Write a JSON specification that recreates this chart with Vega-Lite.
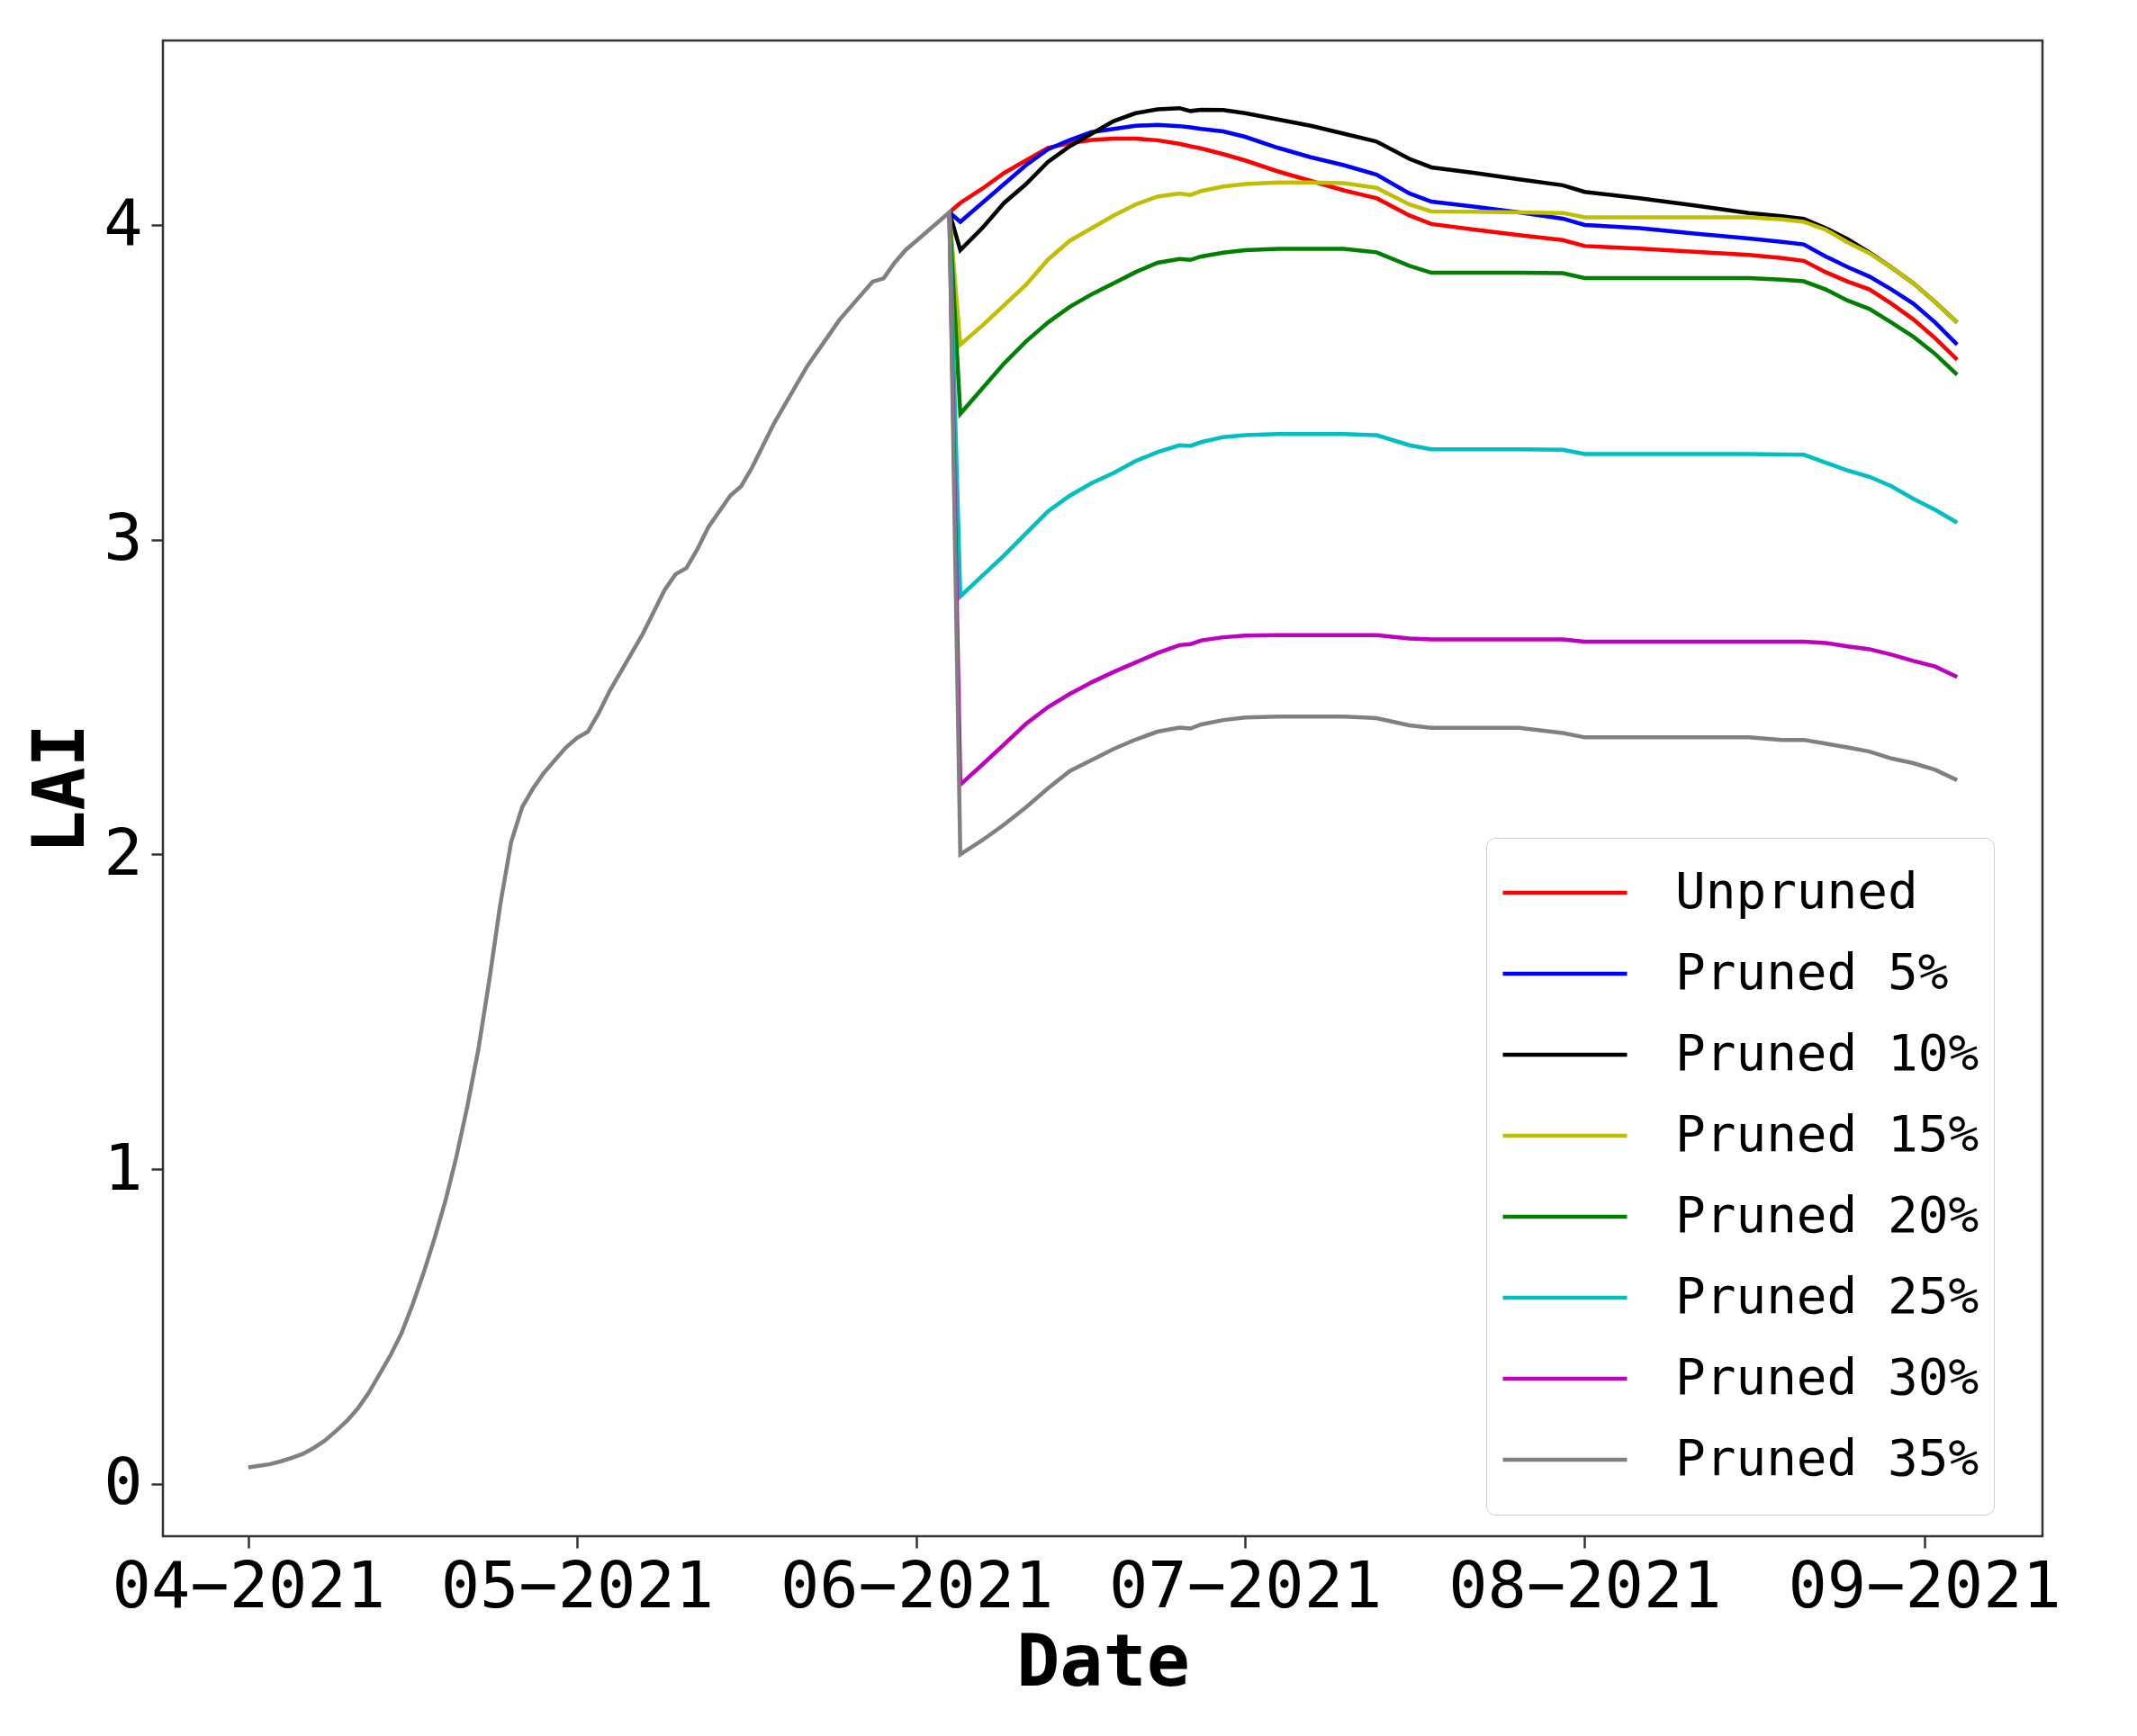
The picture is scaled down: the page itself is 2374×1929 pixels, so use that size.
{
"$schema": "https://vega.github.io/schema/vega-lite/v6.json",
"width": 2088, "height": 1662,
"autosize": {"type": "none"},
"padding": {"left": 181, "top": 45, "right": 105, "bottom": 222},
"background": "white",
"config": {"view": {"stroke": "#333333", "strokeWidth": 2.5}, "font": "DejaVu Sans Mono"},
"data": {"values": [
{"d":"2021/06/04","s":"Unpruned","v":4.04},{"d":"2021/06/05","s":"Unpruned","v":4.07},{"d":"2021/06/07","s":"Unpruned","v":4.115},{"d":"2021/06/09","s":"Unpruned","v":4.165},{"d":"2021/06/11","s":"Unpruned","v":4.205},{"d":"2021/06/13","s":"Unpruned","v":4.245},{"d":"2021/06/15","s":"Unpruned","v":4.26},{"d":"2021/06/17","s":"Unpruned","v":4.27},{"d":"2021/06/19","s":"Unpruned","v":4.274},{"d":"2021/06/21","s":"Unpruned","v":4.274},{"d":"2021/06/23","s":"Unpruned","v":4.269},{"d":"2021/06/25","s":"Unpruned","v":4.258},{"d":"2021/06/26","s":"Unpruned","v":4.25},{"d":"2021/06/27","s":"Unpruned","v":4.243},{"d":"2021/06/29","s":"Unpruned","v":4.225},{"d":"2021/07/01","s":"Unpruned","v":4.205},{"d":"2021/07/04","s":"Unpruned","v":4.17},{"d":"2021/07/07","s":"Unpruned","v":4.14},{"d":"2021/07/10","s":"Unpruned","v":4.11},{"d":"2021/07/13","s":"Unpruned","v":4.085},{"d":"2021/07/16","s":"Unpruned","v":4.03},{"d":"2021/07/18","s":"Unpruned","v":4.003},{"d":"2021/07/22","s":"Unpruned","v":3.985},{"d":"2021/07/26","s":"Unpruned","v":3.968},{"d":"2021/07/30","s":"Unpruned","v":3.952},{"d":"2021/08/01","s":"Unpruned","v":3.933},{"d":"2021/08/06","s":"Unpruned","v":3.925},{"d":"2021/08/11","s":"Unpruned","v":3.915},{"d":"2021/08/16","s":"Unpruned","v":3.905},{"d":"2021/08/19","s":"Unpruned","v":3.895},{"d":"2021/08/21","s":"Unpruned","v":3.886},{"d":"2021/08/23","s":"Unpruned","v":3.85},{"d":"2021/08/25","s":"Unpruned","v":3.82},{"d":"2021/08/27","s":"Unpruned","v":3.795},{"d":"2021/08/29","s":"Unpruned","v":3.75},{"d":"2021/08/31","s":"Unpruned","v":3.7},{"d":"2021/09/02","s":"Unpruned","v":3.64},{"d":"2021/09/04","s":"Unpruned","v":3.572},
{"d":"2021/06/04","s":"Pruned 5%","v":4.04},{"d":"2021/06/05","s":"Pruned 5%","v":4.01},{"d":"2021/06/07","s":"Pruned 5%","v":4.07},{"d":"2021/06/09","s":"Pruned 5%","v":4.13},{"d":"2021/06/11","s":"Pruned 5%","v":4.19},{"d":"2021/06/13","s":"Pruned 5%","v":4.24},{"d":"2021/06/15","s":"Pruned 5%","v":4.27},{"d":"2021/06/17","s":"Pruned 5%","v":4.295},{"d":"2021/06/19","s":"Pruned 5%","v":4.305},{"d":"2021/06/21","s":"Pruned 5%","v":4.315},{"d":"2021/06/23","s":"Pruned 5%","v":4.318},{"d":"2021/06/25","s":"Pruned 5%","v":4.314},{"d":"2021/06/26","s":"Pruned 5%","v":4.31},{"d":"2021/06/27","s":"Pruned 5%","v":4.305},{"d":"2021/06/29","s":"Pruned 5%","v":4.297},{"d":"2021/07/01","s":"Pruned 5%","v":4.28},{"d":"2021/07/04","s":"Pruned 5%","v":4.245},{"d":"2021/07/07","s":"Pruned 5%","v":4.215},{"d":"2021/07/10","s":"Pruned 5%","v":4.19},{"d":"2021/07/13","s":"Pruned 5%","v":4.16},{"d":"2021/07/16","s":"Pruned 5%","v":4.1},{"d":"2021/07/18","s":"Pruned 5%","v":4.074},{"d":"2021/07/22","s":"Pruned 5%","v":4.058},{"d":"2021/07/26","s":"Pruned 5%","v":4.04},{"d":"2021/07/30","s":"Pruned 5%","v":4.02},{"d":"2021/08/01","s":"Pruned 5%","v":4.0},{"d":"2021/08/06","s":"Pruned 5%","v":3.99},{"d":"2021/08/11","s":"Pruned 5%","v":3.973},{"d":"2021/08/16","s":"Pruned 5%","v":3.957},{"d":"2021/08/19","s":"Pruned 5%","v":3.946},{"d":"2021/08/21","s":"Pruned 5%","v":3.938},{"d":"2021/08/23","s":"Pruned 5%","v":3.9},{"d":"2021/08/25","s":"Pruned 5%","v":3.866},{"d":"2021/08/27","s":"Pruned 5%","v":3.836},{"d":"2021/08/29","s":"Pruned 5%","v":3.795},{"d":"2021/08/31","s":"Pruned 5%","v":3.75},{"d":"2021/09/02","s":"Pruned 5%","v":3.69},{"d":"2021/09/04","s":"Pruned 5%","v":3.62},
{"d":"2021/06/04","s":"Pruned 10%","v":4.04},{"d":"2021/06/05","s":"Pruned 10%","v":3.92},{"d":"2021/06/07","s":"Pruned 10%","v":3.99},{"d":"2021/06/09","s":"Pruned 10%","v":4.07},{"d":"2021/06/11","s":"Pruned 10%","v":4.13},{"d":"2021/06/13","s":"Pruned 10%","v":4.2},{"d":"2021/06/15","s":"Pruned 10%","v":4.25},{"d":"2021/06/17","s":"Pruned 10%","v":4.29},{"d":"2021/06/19","s":"Pruned 10%","v":4.33},{"d":"2021/06/21","s":"Pruned 10%","v":4.355},{"d":"2021/06/23","s":"Pruned 10%","v":4.367},{"d":"2021/06/25","s":"Pruned 10%","v":4.371},{"d":"2021/06/26","s":"Pruned 10%","v":4.362},{"d":"2021/06/27","s":"Pruned 10%","v":4.366},{"d":"2021/06/29","s":"Pruned 10%","v":4.365},{"d":"2021/07/01","s":"Pruned 10%","v":4.355},{"d":"2021/07/04","s":"Pruned 10%","v":4.335},{"d":"2021/07/07","s":"Pruned 10%","v":4.315},{"d":"2021/07/10","s":"Pruned 10%","v":4.29},{"d":"2021/07/13","s":"Pruned 10%","v":4.265},{"d":"2021/07/16","s":"Pruned 10%","v":4.21},{"d":"2021/07/18","s":"Pruned 10%","v":4.183},{"d":"2021/07/22","s":"Pruned 10%","v":4.165},{"d":"2021/07/26","s":"Pruned 10%","v":4.145},{"d":"2021/07/30","s":"Pruned 10%","v":4.126},{"d":"2021/08/01","s":"Pruned 10%","v":4.105},{"d":"2021/08/06","s":"Pruned 10%","v":4.085},{"d":"2021/08/11","s":"Pruned 10%","v":4.062},{"d":"2021/08/16","s":"Pruned 10%","v":4.038},{"d":"2021/08/19","s":"Pruned 10%","v":4.028},{"d":"2021/08/21","s":"Pruned 10%","v":4.019},{"d":"2021/08/23","s":"Pruned 10%","v":3.99},{"d":"2021/08/25","s":"Pruned 10%","v":3.955},{"d":"2021/08/27","s":"Pruned 10%","v":3.912},{"d":"2021/08/29","s":"Pruned 10%","v":3.865},{"d":"2021/08/31","s":"Pruned 10%","v":3.815},{"d":"2021/09/02","s":"Pruned 10%","v":3.755},{"d":"2021/09/04","s":"Pruned 10%","v":3.69},
{"d":"2021/06/04","s":"Pruned 15%","v":4.04},{"d":"2021/06/05","s":"Pruned 15%","v":3.62},{"d":"2021/06/07","s":"Pruned 15%","v":3.68},{"d":"2021/06/09","s":"Pruned 15%","v":3.745},{"d":"2021/06/11","s":"Pruned 15%","v":3.81},{"d":"2021/06/13","s":"Pruned 15%","v":3.89},{"d":"2021/06/15","s":"Pruned 15%","v":3.95},{"d":"2021/06/17","s":"Pruned 15%","v":3.99},{"d":"2021/06/19","s":"Pruned 15%","v":4.03},{"d":"2021/06/21","s":"Pruned 15%","v":4.065},{"d":"2021/06/23","s":"Pruned 15%","v":4.09},{"d":"2021/06/25","s":"Pruned 15%","v":4.1},{"d":"2021/06/26","s":"Pruned 15%","v":4.095},{"d":"2021/06/27","s":"Pruned 15%","v":4.108},{"d":"2021/06/29","s":"Pruned 15%","v":4.122},{"d":"2021/07/01","s":"Pruned 15%","v":4.13},{"d":"2021/07/04","s":"Pruned 15%","v":4.135},{"d":"2021/07/07","s":"Pruned 15%","v":4.135},{"d":"2021/07/10","s":"Pruned 15%","v":4.133},{"d":"2021/07/13","s":"Pruned 15%","v":4.118},{"d":"2021/07/16","s":"Pruned 15%","v":4.065},{"d":"2021/07/18","s":"Pruned 15%","v":4.043},{"d":"2021/07/22","s":"Pruned 15%","v":4.042},{"d":"2021/07/26","s":"Pruned 15%","v":4.04},{"d":"2021/07/30","s":"Pruned 15%","v":4.038},{"d":"2021/08/01","s":"Pruned 15%","v":4.024},{"d":"2021/08/06","s":"Pruned 15%","v":4.024},{"d":"2021/08/11","s":"Pruned 15%","v":4.024},{"d":"2021/08/16","s":"Pruned 15%","v":4.024},{"d":"2021/08/19","s":"Pruned 15%","v":4.018},{"d":"2021/08/21","s":"Pruned 15%","v":4.01},{"d":"2021/08/23","s":"Pruned 15%","v":3.985},{"d":"2021/08/25","s":"Pruned 15%","v":3.945},{"d":"2021/08/27","s":"Pruned 15%","v":3.91},{"d":"2021/08/29","s":"Pruned 15%","v":3.865},{"d":"2021/08/31","s":"Pruned 15%","v":3.815},{"d":"2021/09/02","s":"Pruned 15%","v":3.755},{"d":"2021/09/04","s":"Pruned 15%","v":3.69},
{"d":"2021/06/04","s":"Pruned 20%","v":4.04},{"d":"2021/06/05","s":"Pruned 20%","v":3.4},{"d":"2021/06/07","s":"Pruned 20%","v":3.48},{"d":"2021/06/09","s":"Pruned 20%","v":3.56},{"d":"2021/06/11","s":"Pruned 20%","v":3.63},{"d":"2021/06/13","s":"Pruned 20%","v":3.69},{"d":"2021/06/15","s":"Pruned 20%","v":3.74},{"d":"2021/06/17","s":"Pruned 20%","v":3.78},{"d":"2021/06/19","s":"Pruned 20%","v":3.815},{"d":"2021/06/21","s":"Pruned 20%","v":3.85},{"d":"2021/06/23","s":"Pruned 20%","v":3.88},{"d":"2021/06/25","s":"Pruned 20%","v":3.892},{"d":"2021/06/26","s":"Pruned 20%","v":3.889},{"d":"2021/06/27","s":"Pruned 20%","v":3.9},{"d":"2021/06/29","s":"Pruned 20%","v":3.912},{"d":"2021/07/01","s":"Pruned 20%","v":3.92},{"d":"2021/07/04","s":"Pruned 20%","v":3.924},{"d":"2021/07/07","s":"Pruned 20%","v":3.924},{"d":"2021/07/10","s":"Pruned 20%","v":3.924},{"d":"2021/07/13","s":"Pruned 20%","v":3.913},{"d":"2021/07/16","s":"Pruned 20%","v":3.87},{"d":"2021/07/18","s":"Pruned 20%","v":3.848},{"d":"2021/07/22","s":"Pruned 20%","v":3.848},{"d":"2021/07/26","s":"Pruned 20%","v":3.848},{"d":"2021/07/30","s":"Pruned 20%","v":3.847},{"d":"2021/08/01","s":"Pruned 20%","v":3.831},{"d":"2021/08/06","s":"Pruned 20%","v":3.831},{"d":"2021/08/11","s":"Pruned 20%","v":3.831},{"d":"2021/08/16","s":"Pruned 20%","v":3.831},{"d":"2021/08/19","s":"Pruned 20%","v":3.826},{"d":"2021/08/21","s":"Pruned 20%","v":3.821},{"d":"2021/08/23","s":"Pruned 20%","v":3.795},{"d":"2021/08/25","s":"Pruned 20%","v":3.76},{"d":"2021/08/27","s":"Pruned 20%","v":3.733},{"d":"2021/08/29","s":"Pruned 20%","v":3.69},{"d":"2021/08/31","s":"Pruned 20%","v":3.645},{"d":"2021/09/02","s":"Pruned 20%","v":3.59},{"d":"2021/09/04","s":"Pruned 20%","v":3.524},
{"d":"2021/06/04","s":"Pruned 25%","v":4.04},{"d":"2021/06/05","s":"Pruned 25%","v":2.82},{"d":"2021/06/07","s":"Pruned 25%","v":2.885},{"d":"2021/06/09","s":"Pruned 25%","v":2.95},{"d":"2021/06/11","s":"Pruned 25%","v":3.02},{"d":"2021/06/13","s":"Pruned 25%","v":3.09},{"d":"2021/06/15","s":"Pruned 25%","v":3.14},{"d":"2021/06/17","s":"Pruned 25%","v":3.18},{"d":"2021/06/19","s":"Pruned 25%","v":3.212},{"d":"2021/06/21","s":"Pruned 25%","v":3.25},{"d":"2021/06/23","s":"Pruned 25%","v":3.278},{"d":"2021/06/25","s":"Pruned 25%","v":3.3},{"d":"2021/06/26","s":"Pruned 25%","v":3.298},{"d":"2021/06/27","s":"Pruned 25%","v":3.31},{"d":"2021/06/29","s":"Pruned 25%","v":3.326},{"d":"2021/07/01","s":"Pruned 25%","v":3.332},{"d":"2021/07/04","s":"Pruned 25%","v":3.336},{"d":"2021/07/07","s":"Pruned 25%","v":3.336},{"d":"2021/07/10","s":"Pruned 25%","v":3.336},{"d":"2021/07/13","s":"Pruned 25%","v":3.332},{"d":"2021/07/16","s":"Pruned 25%","v":3.3},{"d":"2021/07/18","s":"Pruned 25%","v":3.287},{"d":"2021/07/22","s":"Pruned 25%","v":3.287},{"d":"2021/07/26","s":"Pruned 25%","v":3.287},{"d":"2021/07/30","s":"Pruned 25%","v":3.286},{"d":"2021/08/01","s":"Pruned 25%","v":3.272},{"d":"2021/08/06","s":"Pruned 25%","v":3.272},{"d":"2021/08/11","s":"Pruned 25%","v":3.272},{"d":"2021/08/16","s":"Pruned 25%","v":3.272},{"d":"2021/08/19","s":"Pruned 25%","v":3.271},{"d":"2021/08/21","s":"Pruned 25%","v":3.27},{"d":"2021/08/23","s":"Pruned 25%","v":3.245},{"d":"2021/08/25","s":"Pruned 25%","v":3.22},{"d":"2021/08/27","s":"Pruned 25%","v":3.2},{"d":"2021/08/29","s":"Pruned 25%","v":3.17},{"d":"2021/08/31","s":"Pruned 25%","v":3.13},{"d":"2021/09/02","s":"Pruned 25%","v":3.095},{"d":"2021/09/04","s":"Pruned 25%","v":3.054},
{"d":"2021/06/04","s":"Pruned 30%","v":4.04},{"d":"2021/06/05","s":"Pruned 30%","v":2.222},{"d":"2021/06/07","s":"Pruned 30%","v":2.285},{"d":"2021/06/09","s":"Pruned 30%","v":2.35},{"d":"2021/06/11","s":"Pruned 30%","v":2.415},{"d":"2021/06/13","s":"Pruned 30%","v":2.468},{"d":"2021/06/15","s":"Pruned 30%","v":2.51},{"d":"2021/06/17","s":"Pruned 30%","v":2.547},{"d":"2021/06/19","s":"Pruned 30%","v":2.58},{"d":"2021/06/21","s":"Pruned 30%","v":2.61},{"d":"2021/06/23","s":"Pruned 30%","v":2.64},{"d":"2021/06/25","s":"Pruned 30%","v":2.665},{"d":"2021/06/26","s":"Pruned 30%","v":2.668},{"d":"2021/06/27","s":"Pruned 30%","v":2.68},{"d":"2021/06/29","s":"Pruned 30%","v":2.69},{"d":"2021/07/01","s":"Pruned 30%","v":2.695},{"d":"2021/07/04","s":"Pruned 30%","v":2.697},{"d":"2021/07/07","s":"Pruned 30%","v":2.697},{"d":"2021/07/10","s":"Pruned 30%","v":2.697},{"d":"2021/07/13","s":"Pruned 30%","v":2.697},{"d":"2021/07/16","s":"Pruned 30%","v":2.686},{"d":"2021/07/18","s":"Pruned 30%","v":2.683},{"d":"2021/07/22","s":"Pruned 30%","v":2.683},{"d":"2021/07/26","s":"Pruned 30%","v":2.683},{"d":"2021/07/30","s":"Pruned 30%","v":2.683},{"d":"2021/08/01","s":"Pruned 30%","v":2.676},{"d":"2021/08/06","s":"Pruned 30%","v":2.676},{"d":"2021/08/11","s":"Pruned 30%","v":2.676},{"d":"2021/08/16","s":"Pruned 30%","v":2.676},{"d":"2021/08/19","s":"Pruned 30%","v":2.676},{"d":"2021/08/21","s":"Pruned 30%","v":2.676},{"d":"2021/08/23","s":"Pruned 30%","v":2.672},{"d":"2021/08/25","s":"Pruned 30%","v":2.661},{"d":"2021/08/27","s":"Pruned 30%","v":2.652},{"d":"2021/08/29","s":"Pruned 30%","v":2.635},{"d":"2021/08/31","s":"Pruned 30%","v":2.615},{"d":"2021/09/02","s":"Pruned 30%","v":2.597},{"d":"2021/09/04","s":"Pruned 30%","v":2.564},
{"d":"2021/04/01","s":"Pruned 35%","v":0.053},{"d":"2021/04/02","s":"Pruned 35%","v":0.058},{"d":"2021/04/03","s":"Pruned 35%","v":0.063},{"d":"2021/04/04","s":"Pruned 35%","v":0.072},{"d":"2021/04/05","s":"Pruned 35%","v":0.083},{"d":"2021/04/06","s":"Pruned 35%","v":0.096},{"d":"2021/04/07","s":"Pruned 35%","v":0.115},{"d":"2021/04/08","s":"Pruned 35%","v":0.138},{"d":"2021/04/09","s":"Pruned 35%","v":0.168},{"d":"2021/04/10","s":"Pruned 35%","v":0.2},{"d":"2021/04/11","s":"Pruned 35%","v":0.24},{"d":"2021/04/12","s":"Pruned 35%","v":0.29},{"d":"2021/04/13","s":"Pruned 35%","v":0.35},{"d":"2021/04/14","s":"Pruned 35%","v":0.41},{"d":"2021/04/15","s":"Pruned 35%","v":0.48},{"d":"2021/04/16","s":"Pruned 35%","v":0.57},{"d":"2021/04/17","s":"Pruned 35%","v":0.67},{"d":"2021/04/18","s":"Pruned 35%","v":0.78},{"d":"2021/04/19","s":"Pruned 35%","v":0.9},{"d":"2021/04/20","s":"Pruned 35%","v":1.04},{"d":"2021/04/21","s":"Pruned 35%","v":1.2},{"d":"2021/04/22","s":"Pruned 35%","v":1.38},{"d":"2021/04/23","s":"Pruned 35%","v":1.6},{"d":"2021/04/24","s":"Pruned 35%","v":1.84},{"d":"2021/04/25","s":"Pruned 35%","v":2.04},{"d":"2021/04/26","s":"Pruned 35%","v":2.15},{"d":"2021/04/27","s":"Pruned 35%","v":2.21},{"d":"2021/04/28","s":"Pruned 35%","v":2.26},{"d":"2021/04/29","s":"Pruned 35%","v":2.3},{"d":"2021/04/30","s":"Pruned 35%","v":2.34},{"d":"2021/05/01","s":"Pruned 35%","v":2.37},{"d":"2021/05/02","s":"Pruned 35%","v":2.39},{"d":"2021/05/03","s":"Pruned 35%","v":2.45},{"d":"2021/05/04","s":"Pruned 35%","v":2.52},{"d":"2021/05/05","s":"Pruned 35%","v":2.58},{"d":"2021/05/06","s":"Pruned 35%","v":2.64},{"d":"2021/05/07","s":"Pruned 35%","v":2.7},{"d":"2021/05/08","s":"Pruned 35%","v":2.77},{"d":"2021/05/09","s":"Pruned 35%","v":2.84},{"d":"2021/05/10","s":"Pruned 35%","v":2.89},{"d":"2021/05/11","s":"Pruned 35%","v":2.91},{"d":"2021/05/12","s":"Pruned 35%","v":2.97},{"d":"2021/05/13","s":"Pruned 35%","v":3.04},{"d":"2021/05/14","s":"Pruned 35%","v":3.09},{"d":"2021/05/15","s":"Pruned 35%","v":3.14},{"d":"2021/05/16","s":"Pruned 35%","v":3.17},{"d":"2021/05/17","s":"Pruned 35%","v":3.23},{"d":"2021/05/18","s":"Pruned 35%","v":3.3},{"d":"2021/05/19","s":"Pruned 35%","v":3.37},{"d":"2021/05/20","s":"Pruned 35%","v":3.43},{"d":"2021/05/21","s":"Pruned 35%","v":3.49},{"d":"2021/05/22","s":"Pruned 35%","v":3.55},{"d":"2021/05/23","s":"Pruned 35%","v":3.6},{"d":"2021/05/24","s":"Pruned 35%","v":3.65},{"d":"2021/05/25","s":"Pruned 35%","v":3.7},{"d":"2021/05/26","s":"Pruned 35%","v":3.74},{"d":"2021/05/27","s":"Pruned 35%","v":3.78},{"d":"2021/05/28","s":"Pruned 35%","v":3.82},{"d":"2021/05/29","s":"Pruned 35%","v":3.83},{"d":"2021/05/30","s":"Pruned 35%","v":3.88},{"d":"2021/05/31","s":"Pruned 35%","v":3.92},{"d":"2021/06/01","s":"Pruned 35%","v":3.95},{"d":"2021/06/02","s":"Pruned 35%","v":3.98},{"d":"2021/06/03","s":"Pruned 35%","v":4.01},
{"d":"2021/06/04","s":"Pruned 35%","v":4.04},{"d":"2021/06/05","s":"Pruned 35%","v":2.0},{"d":"2021/06/07","s":"Pruned 35%","v":2.045},{"d":"2021/06/09","s":"Pruned 35%","v":2.095},{"d":"2021/06/11","s":"Pruned 35%","v":2.15},{"d":"2021/06/13","s":"Pruned 35%","v":2.21},{"d":"2021/06/15","s":"Pruned 35%","v":2.265},{"d":"2021/06/17","s":"Pruned 35%","v":2.3},{"d":"2021/06/19","s":"Pruned 35%","v":2.335},{"d":"2021/06/21","s":"Pruned 35%","v":2.365},{"d":"2021/06/23","s":"Pruned 35%","v":2.39},{"d":"2021/06/25","s":"Pruned 35%","v":2.403},{"d":"2021/06/26","s":"Pruned 35%","v":2.4},{"d":"2021/06/27","s":"Pruned 35%","v":2.413},{"d":"2021/06/29","s":"Pruned 35%","v":2.427},{"d":"2021/07/01","s":"Pruned 35%","v":2.435},{"d":"2021/07/04","s":"Pruned 35%","v":2.438},{"d":"2021/07/07","s":"Pruned 35%","v":2.438},{"d":"2021/07/10","s":"Pruned 35%","v":2.438},{"d":"2021/07/13","s":"Pruned 35%","v":2.433},{"d":"2021/07/16","s":"Pruned 35%","v":2.41},{"d":"2021/07/18","s":"Pruned 35%","v":2.402},{"d":"2021/07/22","s":"Pruned 35%","v":2.402},{"d":"2021/07/26","s":"Pruned 35%","v":2.402},{"d":"2021/07/30","s":"Pruned 35%","v":2.386},{"d":"2021/08/01","s":"Pruned 35%","v":2.372},{"d":"2021/08/06","s":"Pruned 35%","v":2.372},{"d":"2021/08/11","s":"Pruned 35%","v":2.372},{"d":"2021/08/16","s":"Pruned 35%","v":2.372},{"d":"2021/08/19","s":"Pruned 35%","v":2.364},{"d":"2021/08/21","s":"Pruned 35%","v":2.364},{"d":"2021/08/23","s":"Pruned 35%","v":2.352},{"d":"2021/08/25","s":"Pruned 35%","v":2.34},{"d":"2021/08/27","s":"Pruned 35%","v":2.327},{"d":"2021/08/29","s":"Pruned 35%","v":2.305},{"d":"2021/08/31","s":"Pruned 35%","v":2.29},{"d":"2021/09/02","s":"Pruned 35%","v":2.269},{"d":"2021/09/04","s":"Pruned 35%","v":2.236}
]},
"mark": {"type": "line", "strokeWidth": 4.5},
"encoding": {
"x": {"field": "d", "type": "temporal",
 "scale": {"domain": [{"year": 2021, "month": 3, "date": 24, "hours": 5}, {"year": 2021, "month": 9, "date": 11, "hours": 19}]},
 "axis": {"values": [{"year": 2021, "month": 4, "date": 1}, {"year": 2021, "month": 5, "date": 1}, {"year": 2021, "month": 6, "date": 1}, {"year": 2021, "month": 7, "date": 1}, {"year": 2021, "month": 8, "date": 1}, {"year": 2021, "month": 9, "date": 1}],
  "format": "%m−%Y", "labelFont": "DejaVu Sans Mono", "labelFontSize": 72, "labelColor": "black", "labelPadding": 8, "labelFlush": false, "labelOverlap": false, "labelLimit": 0,
  "tickSize": 13, "tickWidth": 2.5, "tickColor": "#333333", "domain": false, "grid": false,
  "title": "Date", "titleFont": "DejaVu Sans Mono", "titleFontSize": 80, "titleFontWeight": "bold", "titleColor": "black", "titlePadding": 10}},
"y": {"field": "v", "type": "quantitative",
 "scale": {"domain": [-0.166, 4.586], "nice": false, "zero": false},
 "axis": {"values": [0, 1, 2, 3, 4], "format": "d", "labelFont": "DejaVu Sans Mono", "labelFontSize": 72, "labelColor": "black", "labelPadding": 10,
  "tickSize": 13, "tickWidth": 2.5, "tickColor": "#333333", "domain": false, "grid": false,
  "title": "LAI", "titleFont": "DejaVu Sans Mono", "titleFontSize": 80, "titleFontWeight": "bold", "titleColor": "black", "titlePadding": 5}},
"color": {"field": "s", "type": "nominal",
 "scale": {"domain": ["Unpruned", "Pruned 5%", "Pruned 10%", "Pruned 15%", "Pruned 20%", "Pruned 25%", "Pruned 30%", "Pruned 35%"],
  "range": ["#ff0000", "#0000ff", "#000000", "#bfbf00", "#008000", "#00bfbf", "#bf00bf", "#808080"]},
 "legend": {"orient": "none", "legendX": 1470, "legendY": 886, "title": null,
  "symbolType": "stroke", "symbolSize": 19044, "symbolStrokeWidth": 4.5, "clipHeight": 90, "rowPadding": 0,
  "labelFont": "DejaVu Sans Mono", "labelFontSize": 56, "labelOffset": 51, "labelColor": "black", "labelLimit": 0,
  "fillColor": "white", "strokeColor": "#cccccc", "cornerRadius": 10, "padding": 16}}
}
}
